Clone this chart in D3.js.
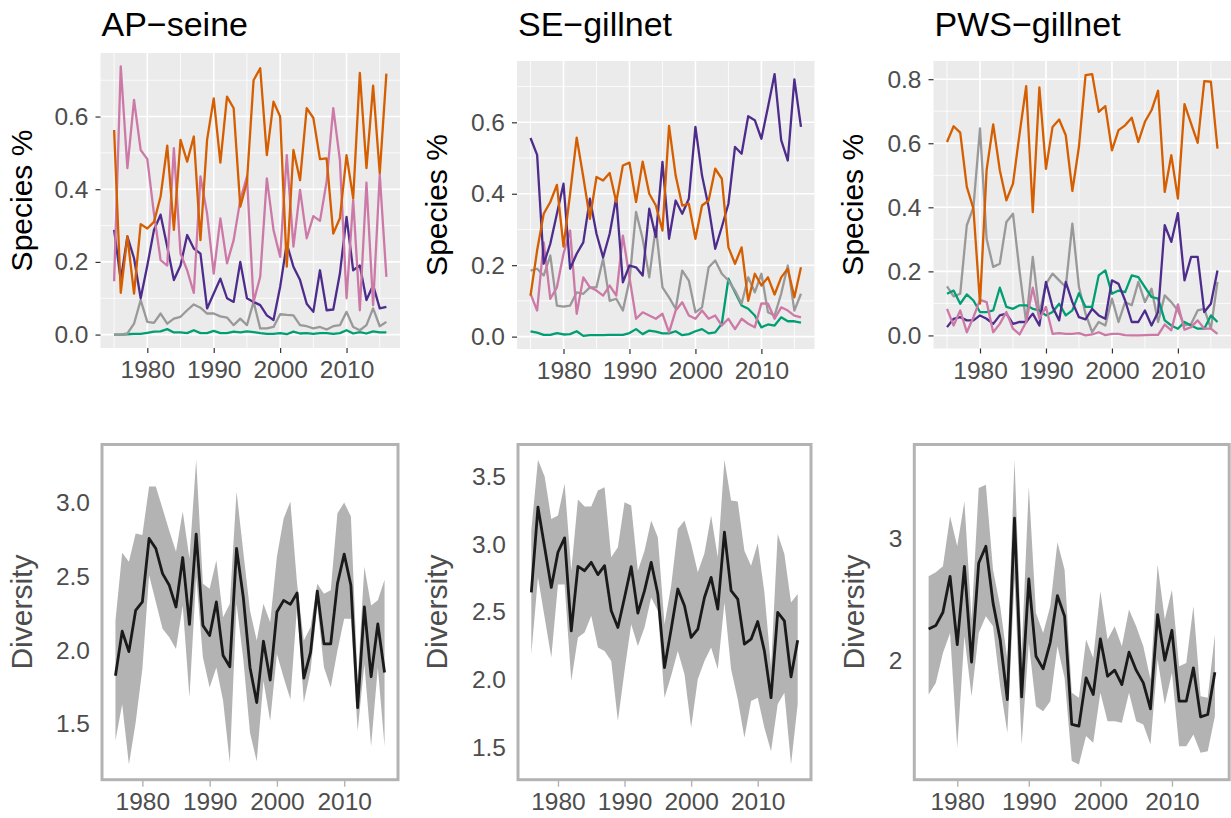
<!DOCTYPE html>
<meta charset="utf-8">
<style>
body { margin: 0; background: #fff; }
svg { display: block; font-family: "Liberation Sans", Arial, sans-serif; }
.axis text { fill: #4d4d4d; font-size: 24.5px; }
.axis path.domain { display: none; }
.top .axis line { stroke: #333333; stroke-width: 1.2px; }
.bottom .axis line { stroke: #b3b3b3; stroke-width: 1.4px; }
.ptitle { font-size: 34px; fill: #000; }
.ytitle { font-size: 30px; text-anchor: middle; }
.series { fill: none; stroke-width: 2.3px; stroke-linejoin: round; }
</style>
<body>
<svg id="chart" width="1231" height="818"></svg>
<script src="https://d3js.org/d3.v7.min.js"></script>
<script>

// years of the catch composition series
var yearsTop = [1975,1976,1977,1978,1979,1980,1981,1982,1983,1984,1985,1986,1987,1988,1989,1990,
  1991,1992,1993,1994,1995,1996,1997,1998,1999,2000,2001,2002,2003,2004,2005,2006,2007,2008,
  2009,2010,2011,2012,2013,2014,2015,2016];
// years of the diversity series
var yearsDiv = [1976,1977,1978,1979,1980,1981,1982,1983,1984,1985,1986,1987,1988,1989,1990,
  1991,1992,1993,1994,1995,1996,1997,1998,1999,2000,2001,2002,2003,2004,2005,2006,2007,2008,
  2009,2010,2011,2012,2013,2014,2015,2016];

// ---- AP-seine species proportions
var apOrange = [0.563,0.115,0.27,0.113,0.304,0.292,0.31,0.38,0.52,0.288,0.536,0.476,0.545,0.26,0.536,0.65,
  0.473,0.655,0.623,0.352,0.42,0.70,0.733,0.494,0.641,0.60,0.187,0.508,0.425,0.623,0.596,0.483,0.485,
  0.278,0.32,0.494,0.375,0.72,0.458,0.685,0.444,0.718];
var apPink = [0.147,0.738,0.458,0.646,0.508,0.483,0.333,0.205,0.19,0.513,0.223,0.177,0.115,0.435,0.333,0.168,
  0.32,0.196,0.26,0.37,0.435,0.09,0.159,0.43,0.288,0.214,0.494,0.242,0.398,0.265,0.326,0.313,0.421,
  0.623,0.48,0.10,0.37,0.067,0.418,0.081,0.44,0.159];
var apPurple = [0.288,0.15,0.27,0.21,0.10,0.19,0.288,0.33,0.242,0.15,0.19,0.274,0.237,0.223,0.072,0.113,
  0.154,0.10,0.09,0.20,0.10,0.09,0.081,0.053,0.04,0.131,0.25,0.187,0.15,0.085,0.0625,0.177,0.067,
  0.069,0.168,0.324,0.177,0.19,0.095,0.136,0.072,0.076];
var apGrey = [0.0,0.0,0.003,0.03,0.095,0.035,0.032,0.058,0.03,0.044,0.049,0.067,0.083,0.074,0.058,0.058,
  0.05,0.047,0.026,0.044,0.026,0.09,0.017,0.017,0.021,0.056,0.054,0.053,0.026,0.023,0.017,0.021,0.014,
  0.023,0.026,0.0625,0.021,0.012,0.026,0.072,0.023,0.035];
var apGreen = [0.0,0.0,0.001,0.002,0.002,0.005,0.008,0.009,0.015,0.006,0.006,0.004,0.012,0.004,0.004,0.01,
  0.004,0.004,0.008,0.006,0.009,0.007,0.004,0.002,0.002,0.004,0.001,0.008,0.003,0.004,0.002,0.004,0.004,
  0.002,0.004,0.012,0.003,0.007,0.003,0.009,0.006,0.006];

// ---- SE-gillnet species proportions
var seOrange = [0.115,0.241,0.344,0.377,0.425,0.252,0.40,0.557,0.447,0.33,0.447,0.437,0.458,0.377,0.479,0.487,
  0.377,0.49,0.40,0.367,0.297,0.59,0.451,0.367,0.372,0.274,0.367,0.381,0.47,0.442,0.25,0.204,0.25,
  0.10,0.176,0.143,0.166,0.118,0.166,0.19,0.11,0.194];
var sePurple = [0.556,0.509,0.204,0.26,0.344,0.428,0.19,0.232,0.264,0.386,0.288,0.222,0.288,0.39,0.152,0.199,
  0.194,0.171,0.358,0.279,0.489,0.274,0.381,0.344,0.386,0.587,0.451,0.363,0.246,0.307,0.372,0.531,0.512,
  0.617,0.606,0.554,0.643,0.735,0.55,0.493,0.72,0.587];
var sePink = [0.12,0.073,0.264,0.106,0.138,0.232,0.297,0.064,0.166,0.138,0.129,0.115,0.143,0.115,0.283,0.166,
  0.05,0.068,0.059,0.05,0.064,0.012,0.073,0.096,0.059,0.05,0.073,0.05,0.059,0.031,0.05,0.021,0.05,
  0.036,0.026,0.093,0.092,0.05,0.082,0.073,0.059,0.054];
var seGrey = [0.185,0.19,0.171,0.227,0.087,0.084,0.087,0.124,0.12,0.138,0.138,0.218,0.10,0.106,0.073,0.157,
  0.349,0.274,0.166,0.307,0.138,0.11,0.078,0.185,0.157,0.068,0.082,0.194,0.213,0.176,0.157,0.129,0.092,
  0.166,0.124,0.176,0.068,0.059,0.12,0.199,0.073,0.12];
var seGreen = [0.015,0.011,0.005,0.005,0.01,0.006,0.007,0.015,0.002,0.004,0.004,0.004,0.005,0.005,0.005,0.01,
  0.021,0.007,0.017,0.014,0.009,0.009,0.015,0.004,0.007,0.015,0.021,0.009,0.012,0.036,0.162,0.124,0.087,
  0.078,0.059,0.026,0.034,0.031,0.054,0.043,0.043,0.039];

// ---- PWS-gillnet species proportions
var pwsOrange = [0.604,0.653,0.633,0.464,0.396,0.099,0.516,0.659,0.516,0.422,0.474,0.63,0.778,0.385,0.774,0.52,
  0.651,0.674,0.625,0.451,0.589,0.8125,0.816,0.698,0.716,0.578,0.641,0.656,0.68,0.604,0.667,0.703,0.764,
  0.448,0.5625,0.427,0.722,0.661,0.601,0.794,0.792,0.583];
var pwsGrey = [0.153,0.122,0.13,0.344,0.40,0.646,0.302,0.214,0.224,0.354,0.38,0.20,0.04,0.245,0.068,0.161,
  0.193,0.172,0.151,0.349,0.151,0.068,0.01,0.042,0.031,0.115,0.042,0.104,0.094,0.167,0.104,0.146,0.042,
  0.125,0.104,0.078,0.031,0.036,0.078,0.083,0.021,0.167];
var pwsGreen = [0.13,0.14,0.099,0.128,0.109,0.073,0.073,0.078,0.149,0.089,0.083,0.094,0.094,0.083,0.078,0.0625,
  0.073,0.099,0.0625,0.078,0.132,0.089,0.089,0.1875,0.203,0.13,0.14,0.135,0.1875,0.182,0.151,0.12,0.115,
  0.047,0.031,0.021,0.042,0.031,0.021,0.021,0.0625,0.042];
var pwsPurple = [0.026,0.052,0.057,0.047,0.047,0.0625,0.052,0.036,0.0625,0.068,0.036,0.042,0.042,0.068,0.031,0.167,
  0.089,0.047,0.167,0.104,0.057,0.05,0.083,0.0625,0.052,0.172,0.161,0.109,0.042,0.042,0.078,0.031,0.073,
  0.344,0.292,0.382,0.172,0.245,0.245,0.073,0.099,0.203];
var pwsPink = [0.083,0.031,0.078,0.01,0.057,0.111,0.104,0.01,0.036,0.073,0.021,0.003,0.042,0.149,0.052,0.089,
  0.005,0.007,0.005,0.005,0.007,0.0,0.003,0.01,0.001,0.005,0.005,0.001,0.0,0.0,0.001,0.002,0.002,
  0.034,0.016,0.097,0.018,0.026,0.047,0.021,0.021,0.005];

// ---- diversity: mean, lower and upper band
var apDivMean = [1.828,2.129,1.991,2.27,2.327,2.757,2.689,2.519,2.44,2.293,2.628,2.175,2.787,2.168,2.1,
  2.327,1.964,1.889,2.689,2.36,1.884,1.646,2.061,1.798,2.259,2.338,2.311,2.388,1.812,1.986,2.401,2.043,
  2.043,2.451,2.651,2.44,1.612,2.293,1.821,2.179,1.85];
var apDivLo = [1.39,1.635,1.227,1.51,1.873,2.508,2.327,2.145,2.088,2.009,2.304,1.68,2.497,1.952,1.748,
  1.884,1.658,1.238,2.315,1.941,1.442,1.249,1.794,1.522,1.975,1.816,1.669,2.3,1.646,1.862,2.304,1.884,
  1.748,1.998,2.213,2.213,1.453,1.907,1.351,1.884,1.351];
var apDivHi = [2.2,2.66,2.599,2.79,2.78,3.109,3.109,2.96,2.81,2.667,2.94,2.621,3.29,2.451,2.417,
  2.61,2.224,2.315,3.075,2.667,2.27,2.066,2.315,2.19,2.633,2.893,3.007,2.45,2.066,2.156,2.451,2.383,
  2.406,2.927,3.0,2.905,1.794,2.565,2.304,2.338,2.478];

var seDivMean = [2.645,3.273,2.978,2.682,2.941,3.047,2.362,2.837,2.805,2.867,2.776,2.842,2.51,2.387,2.608,
  2.835,2.493,2.658,2.867,2.633,2.091,2.374,2.67,2.547,2.313,2.374,2.608,2.756,2.522,3.089,2.658,2.596,
  2.264,2.30,2.431,2.214,1.869,2.498,2.436,2.022,2.293];
var seDivLo = [2.19,2.756,2.461,2.165,2.704,2.704,1.993,2.313,2.35,2.473,2.239,2.214,2.14,1.697,2.067,
  2.411,2.251,2.387,2.608,2.51,1.869,2.03,2.214,2.042,1.648,2.005,2.14,2.239,2.079,2.571,2.079,1.857,
  1.574,1.845,1.869,1.648,1.475,1.82,1.906,1.377,1.82];
var seDivHi = [3.10,3.623,3.5,3.187,3.212,3.446,2.805,3.33,3.278,3.278,3.397,3.421,2.904,2.978,3.31,
  3.286,2.805,2.953,3.175,3.052,2.411,2.695,3.113,3.175,3.003,2.793,2.933,3.212,2.904,3.623,3.323,3.315,
  2.953,2.842,3.008,2.645,2.091,3.076,2.929,2.571,2.633];

var pwsDivMean = [2.258,2.286,2.396,2.692,2.129,2.775,1.984,2.802,2.94,2.473,2.17,1.676,3.173,1.698,2.67,
  2.033,1.929,2.148,2.533,2.363,1.47,1.456,1.854,1.717,2.176,1.868,1.918,1.799,2.066,1.918,1.813,1.599,
  2.376,2.0,2.247,1.662,1.662,1.937,1.533,1.552,1.901];
var pwsDivLo = [1.717,1.813,2.06,2.225,1.277,2.198,1.703,2.225,2.363,2.28,1.786,1.401,2.665,1.305,2.143,
  1.621,1.58,1.662,2.115,1.854,1.168,1.14,1.374,1.319,1.731,1.497,1.497,1.484,1.731,1.497,1.47,1.305,
  2.005,1.635,1.896,1.291,1.291,1.387,1.236,1.25,1.538];
var pwsDivHi = [2.692,2.725,2.775,3.187,2.94,3.31,2.335,3.42,3.448,2.747,2.445,2.005,3.654,2.06,3.434,
  2.39,2.225,2.445,2.973,2.747,1.731,1.69,2.17,2.019,2.569,2.17,2.28,2.115,2.418,2.28,2.115,1.841,
  2.788,2.335,2.582,1.951,1.978,2.445,1.703,1.69,2.212];

var xTicks = [1980, 1990, 2000, 2010];
var xMinor = [1975, 1985, 1995, 2005, 2015];
var speciesColors = { orange: "#d55e00", purple: "#4e2c8c", pink: "#cc79a7", grey: "#999999", green: "#009e73" };

var svg = d3.select("#chart");
svg.append("rect").attr("width", 1231).attr("height", 818).attr("fill", "#fff");

// ggplot style 5% expansion
function expand(ext) {
  var d = (ext[1] - ext[0]) * 0.05;
  return [ext[0] - d, ext[1] + d];
}

function speciesPanel(o) {
  var g = svg.append("g").attr("class", "top");
  var x = d3.scaleLinear().domain(expand(d3.extent(yearsTop))).range([o.left, o.right]);
  var all = d3.merge(o.series.map(function(s) { return s.values; }));
  var y = d3.scaleLinear().domain(expand([d3.min(all), d3.max(all)])).range([o.bottom, o.top]);
  var yd = y.domain();

  g.append("rect")
    .attr("x", o.left).attr("y", o.top)
    .attr("width", o.right - o.left).attr("height", o.bottom - o.top)
    .attr("fill", "#ebebeb");

  var yMinor = [];
  for (var i = 0; i < o.yTicks.length; i++) {
    [o.yTicks[i] - 0.1, o.yTicks[i] + 0.1].forEach(function(v) {
      if (v > yd[0] && v < yd[1] && yMinor.indexOf(+v.toFixed(2)) < 0) yMinor.push(+v.toFixed(2));
    });
  }

  // minor grid
  g.selectAll(".vminor").data(xMinor).enter().append("line")
    .attr("x1", x).attr("x2", x).attr("y1", o.top).attr("y2", o.bottom)
    .attr("stroke", "#fff").attr("stroke-width", 0.8);
  g.selectAll(".hminor").data(yMinor).enter().append("line")
    .attr("y1", y).attr("y2", y).attr("x1", o.left).attr("x2", o.right)
    .attr("stroke", "#fff").attr("stroke-width", 0.8);
  // major grid
  g.selectAll(".vmajor").data(xTicks).enter().append("line")
    .attr("x1", x).attr("x2", x).attr("y1", o.top).attr("y2", o.bottom)
    .attr("stroke", "#fff").attr("stroke-width", 1.6);
  g.selectAll(".hmajor").data(o.yTicks).enter().append("line")
    .attr("y1", y).attr("y2", y).attr("x1", o.left).attr("x2", o.right)
    .attr("stroke", "#fff").attr("stroke-width", 1.6);

  var line = d3.line()
    .x(function(d, i) { return x(yearsTop[i]); })
    .y(function(d) { return y(d); });

  o.series.forEach(function(s) {
    g.append("path").attr("class", "series")
      .attr("d", line(s.values))
      .attr("stroke", speciesColors[s.color]);
  });

  g.append("g").attr("class", "axis")
    .attr("transform", "translate(0," + o.bottom + ")")
    .call(d3.axisBottom(x).tickValues(xTicks).tickFormat(d3.format("d")).tickSize(5).tickPadding(8));
  g.append("g").attr("class", "axis")
    .attr("transform", "translate(" + o.left + ",0)")
    .call(d3.axisLeft(y).tickValues(o.yTicks).tickFormat(d3.format(".1f")).tickSize(5).tickPadding(7));

  svg.append("text").attr("class", "ptitle")
    .attr("x", o.left + 1).attr("y", 36).text(o.title);
  svg.append("text").attr("class", "ytitle")
    .attr("transform", "translate(" + o.ylabX + "," + (o.top + o.bottom) / 2 + ") rotate(-90)")
    .attr("fill", "#000")
    .text("Species %");
}

function diversityPanel(o) {
  var g = svg.append("g").attr("class", "bottom");
  var x = d3.scaleLinear().domain(expand(d3.extent(yearsDiv))).range([o.left, o.right]);
  var y = d3.scaleLinear().domain(expand([d3.min(o.lo), d3.max(o.hi)])).range([o.bottom, o.top]);

  var area = d3.area()
    .x(function(d, i) { return x(yearsDiv[i]); })
    .y0(function(d, i) { return y(o.lo[i]); })
    .y1(function(d, i) { return y(o.hi[i]); });
  g.append("path").attr("d", area(o.mean)).attr("fill", "#b3b3b3");

  var line = d3.line()
    .x(function(d, i) { return x(yearsDiv[i]); })
    .y(function(d) { return y(d); });
  g.append("path").attr("d", line(o.mean))
    .attr("fill", "none").attr("stroke", "#1a1a1a").attr("stroke-width", 2.8)
    .attr("stroke-linejoin", "round");

  g.append("g").attr("class", "axis")
    .attr("transform", "translate(0," + o.bottom + ")")
    .call(d3.axisBottom(x).tickValues(xTicks).tickFormat(d3.format("d")).tickSize(7).tickPadding(6));
  g.append("g").attr("class", "axis")
    .attr("transform", "translate(" + o.left + ",0)")
    .call(d3.axisLeft(y).tickValues(o.yTicks).tickFormat(d3.format(o.fmt)).tickSize(0).tickPadding(12));

  g.append("rect")
    .attr("x", o.left).attr("y", o.top)
    .attr("width", o.right - o.left).attr("height", o.bottom - o.top)
    .attr("fill", "none").attr("stroke", "#b3b3b3").attr("stroke-width", 3);

  svg.append("text").attr("class", "ytitle")
    .attr("transform", "translate(" + o.ylabX + "," + (o.top + o.bottom) / 2 + ") rotate(-90)")
    .attr("fill", "#4d4d4d")
    .text("Diversity");
}

speciesPanel({
  title: "AP\u2212seine", left: 100.5, right: 400, top: 53, bottom: 348, ylabX: 32,
  yTicks: [0, 0.2, 0.4, 0.6],
  series: [
    { color: "green", values: apGreen }, { color: "grey", values: apGrey },
    { color: "purple", values: apPurple }, { color: "pink", values: apPink },
    { color: "orange", values: apOrange }
  ]
});
speciesPanel({
  title: "SE\u2212gillnet", left: 517, right: 814.5, top: 61, bottom: 349, ylabX: 446.5,
  yTicks: [0, 0.2, 0.4, 0.6],
  series: [
    { color: "green", values: seGreen }, { color: "grey", values: seGrey },
    { color: "pink", values: sePink }, { color: "purple", values: sePurple },
    { color: "orange", values: seOrange }
  ]
});
speciesPanel({
  title: "PWS\u2212gillnet", left: 933.5, right: 1231, top: 61, bottom: 348.5, ylabX: 863,
  yTicks: [0, 0.2, 0.4, 0.6, 0.8],
  series: [
    { color: "grey", values: pwsGrey }, { color: "green", values: pwsGreen },
    { color: "purple", values: pwsPurple }, { color: "pink", values: pwsPink },
    { color: "orange", values: pwsOrange }
  ]
});

diversityPanel({ left: 102, right: 398, top: 444.5, bottom: 779.7, ylabX: 32,
  yTicks: [1.5, 2.0, 2.5, 3.0], fmt: ".1f", mean: apDivMean, lo: apDivLo, hi: apDivHi });
diversityPanel({ left: 518, right: 811, top: 444.5, bottom: 779.7, ylabX: 446.5,
  yTicks: [1.5, 2.0, 2.5, 3.0, 3.5], fmt: ".1f", mean: seDivMean, lo: seDivLo, hi: seDivHi });
diversityPanel({ left: 914.3, right: 1229.2, top: 444.5, bottom: 779.7, ylabX: 863.5,
  yTicks: [2, 3], fmt: "d", mean: pwsDivMean, lo: pwsDivLo, hi: pwsDivHi });

</script>
</body>
